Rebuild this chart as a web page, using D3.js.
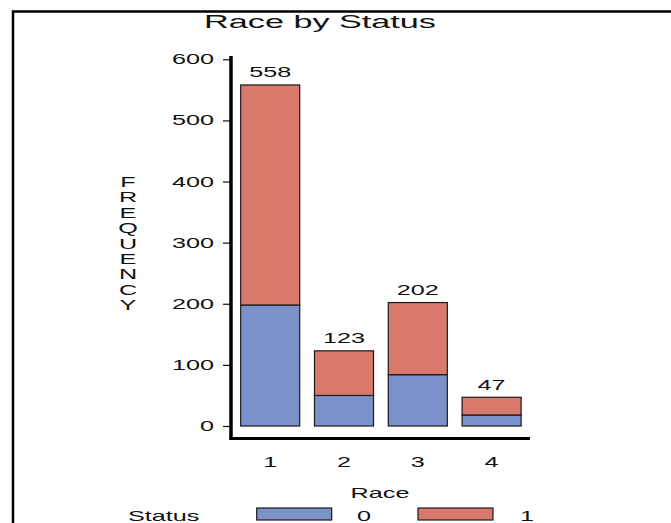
<!DOCTYPE html>
<html>
<head>
<meta charset="utf-8">
<script src="https://cdn.jsdelivr.net/npm/d3@7"></script>
<style>
  body { margin: 0; background: #fff; }
  text { font-family: "Liberation Sans", Arial, sans-serif; fill: #111; }
</style>
</head>
<body>
<div id="chart"></div>
<script>
// Data
const races = ["1", "2", "3", "4"];
const status0 = [198, 50, 84, 18];
const status1 = [360, 73, 118, 29];
const statusKeys = ["0", "1"];
const yTicks = [0, 100, 200, 300, 400, 500, 600];

const W = 671, H = 523;
const SX = 1.8; // glyphs in the picture are stretched sideways
const colors = { "0": "#7a91c9", "1": "#d9796b" };

const svg = d3.select("#chart").append("svg")
    .attr("width", W)
    .attr("height", H);

// frame (only top and left edges visible)
svg.append("path")
    .attr("d", `M13,${H} V11.5 H${W}`)
    .attr("fill", "none")
    .attr("stroke", "#000")
    .attr("stroke-width", 2.5);

// stretched text helper
function label(x, y, str, size, anchor) {
    return svg.append("text")
        .attr("transform", `translate(${x},${y}) scale(${SX},1)`)
        .attr("text-anchor", anchor || "middle")
        .style("font-size", size + "px")
        .text(str);
}

const table = races.map((r, i) => ({ race: r, "0": status0[i], "1": status1[i], total: status0[i] + status1[i] }));
const stacked = d3.stack().keys(statusKeys)(table);

const x = d3.scaleBand()
    .domain(races)
    .range([233.3, 528.5])
    .paddingInner(0.2)
    .paddingOuter(0.1);

const y = d3.scaleLinear()
    .domain([0, 600])
    .range([426, 59.3]);

// bars
svg.append("g").selectAll("g")
    .data(stacked)
    .join("g")
    .attr("fill", d => colors[d.key])
    .selectAll("rect")
    .data(d => d)
    .join("rect")
    .attr("x", d => x(d.data.race))
    .attr("y", d => y(d[1]))
    .attr("width", x.bandwidth())
    .attr("height", d => y(d[0]) - y(d[1]))
    .attr("stroke", "#1a1a1a")
    .attr("stroke-width", 1.2);

// totals above bars
table.forEach(d => {
    label(x(d.race) + x.bandwidth() / 2, y(d.total) - 7.5, d.total, 14);
});

// y axis
const yAxis = svg.append("g")
    .attr("transform", "translate(231,0)")
    .call(d3.axisLeft(y).tickValues(yTicks).tickSize(8).tickFormat(""));
yAxis.select(".domain").remove();
yAxis.selectAll("line").attr("stroke", "#111").attr("stroke-width", 1.2);
yTicks.forEach(t => label(214, y(t) + 5, t, 14, "end"));

svg.append("line")
    .attr("x1", 231).attr("x2", 231)
    .attr("y1", 56).attr("y2", 440)
    .attr("stroke", "#000").attr("stroke-width", 3.5);

// x axis
svg.append("line")
    .attr("x1", 229.5).attr("x2", 530)
    .attr("y1", 438.5).attr("y2", 438.5)
    .attr("stroke", "#000").attr("stroke-width", 3);

const xAxis = svg.append("g")
    .attr("transform", "translate(0,438.5)")
    .call(d3.axisBottom(x).tickSize(0).tickFormat(""));
xAxis.select(".domain").remove();
races.forEach(r => label(x(r) + x.bandwidth() / 2, 467, r, 14));

// axis titles
label(380, 498, "Race", 14);
"FREQUENCY".split("").forEach((c, i) => label(128, 187 + i * 15.4, c, 14));

// title
label(320, 28, "Race by Status", 19);

// legend
label(128, 521, "Status", 14, "start");
const legendX = [256.7, 418];
const legendTextX = [364, 527];
statusKeys.forEach((k, i) => {
    svg.append("rect")
        .attr("x", legendX[i]).attr("y", 508)
        .attr("width", 75).attr("height", 12)
        .attr("fill", colors[k])
        .attr("stroke", "#1a1a1a").attr("stroke-width", 1.2);
    label(legendTextX[i], 521, k, 14);
});
</script>
</body>
</html>
